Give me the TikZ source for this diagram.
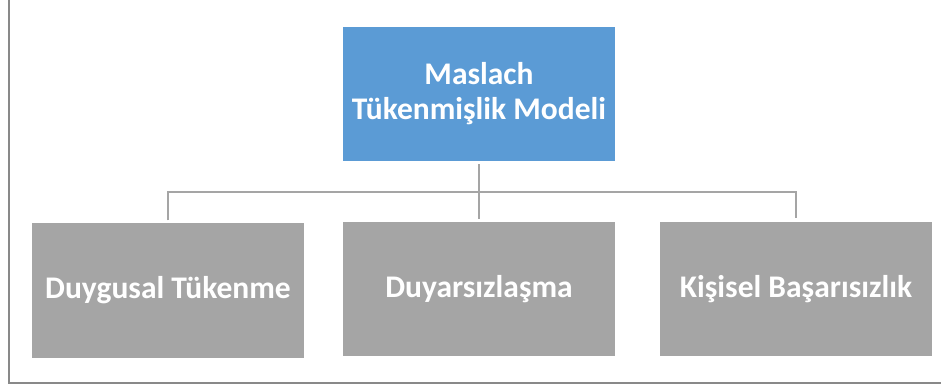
\documentclass[tikz,border=0pt]{standalone}
\usepackage{fontspec}
\setmainfont{Carlito}
\definecolor{topblue}{RGB}{91,155,213}
\definecolor{boxgray}{RGB}{165,165,165}
\definecolor{framegray}{RGB}{137,137,137}
\begin{document}
\begin{tikzpicture}[x=1pt,y=-1pt,
  box/.style={minimum width=272pt,minimum height=134pt,inner sep=0pt,
    text=white,font=\bfseries\fontsize{31.5}{35}\selectfont,align=center},
  link/.style={draw=boxgray,line width=2.5pt},
  frameline/.style={draw=framegray,line width=1.6pt}]
\useasboundingbox (0,0) rectangle (941,387);
\draw[frameline] (9,-2) -- (9,383) -- (945,383);
\node[box,fill=topblue] (top) at (479,94) {Maslach\\Tükenmişlik Modeli};
\node[box,fill=boxgray] (d1) at (168,290.5) {Duygusal Tükenme};
\node[box,fill=boxgray] (d2) at (479,289) {Duyarsızlaşma};
\node[box,fill=boxgray] (d3) at (796,289) {Kişisel Başarısızlık};
\coordinate (bar) at (479,192);
\draw[link,shorten <=3pt,shorten >=3pt] (top.south) -- (d2.north);
\draw[link,shorten <=3pt,shorten >=4pt] (d1.north) |- (bar) -| (d3.north);
\end{tikzpicture}
\end{document}
